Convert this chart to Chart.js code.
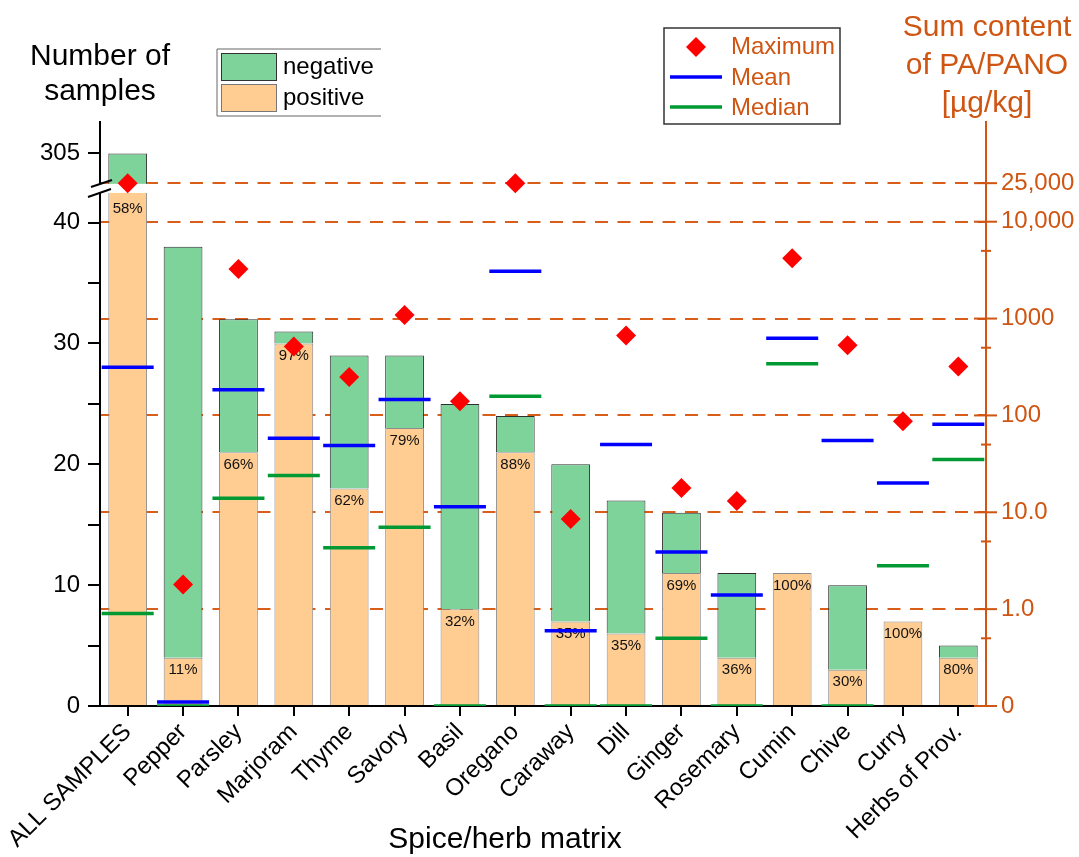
<!DOCTYPE html>
<html>
<head>
<meta charset="utf-8">
<script src="https://cdn.jsdelivr.net/npm/chart.js@4.4.1/dist/chart.umd.min.js"></script>
<style>
  html, body { margin: 0; padding: 0; background: #fff; }
  #wrap { width: 1079px; height: 857px; }
</style>
</head>
<body>
<div id="wrap"><canvas id="chart" width="1079" height="857"></canvas></div>
<script>
const categories = ['ALL SAMPLES', 'Pepper', 'Parsley', 'Marjoram', 'Thyme', 'Savory', 'Basil', 'Oregano',
  'Caraway', 'Dill', 'Ginger', 'Rosemary', 'Cumin', 'Chive', 'Curry', 'Herbs of Prov.'];
const positive = [177, 4, 21, 30, 18, 23, 8, 21, 7, 6, 11, 4, 11, 3, 7, 4];
const negative = [128, 34, 11, 1, 11, 6, 17, 3, 13, 11, 5, 7, 0, 7, 0, 1];
const maximum = [25000, 1.8, 3250, 515, 250, 1090, 140, 25000, 8.5, 670, 17.8, 13.1, 4200, 530, 87, 320];
const mean = [315, 0.11, 184, 58, 49, 146, 11.4, 3075, 0.6, 50, 3.9, 1.4, 627, 55, 20, 81];
const median = [0.9, 0, 14, 24, 4.3, 7, 0, 158, 0, 0, 0.5, 0, 341, 0, 2.8, 35];

const leftTicks = [0, 5, 10, 15, 20, 25, 30, 35, 40, 305];
const leftLabels = { 0: '0', 10: '10', 20: '20', 30: '30', 40: '40', 305: '305' };
const rightTicks = [0.1, 0.5, 1, 5, 10, 50, 100, 500, 1000, 5000, 10000, 25000];
const rightLabels = { 0.1: '0', 1: '1.0', 10: '10.0', 100: '100', 1000: '1000', 10000: '10,000', 25000: '25,000' };

const FONT = '"Liberation Sans", Arial, sans-serif';
const ORANGE = '#cf5512';
const GREEN_FILL = '#7ed39b';
const ORANGE_FILL = '#ffcc91';
const BLUE = '#0000ff';
const MED_GREEN = '#009933';

// left axis is broken between 42.5 and 302.6
const BREAK_LOW = 42.5, BREAK_HIGH = 302.6, BREAK_GAP = 0.83, LEFT_MAX = 307.6;

class BrokenLinearScale extends Chart.LinearScale {
  toVirtual(v) {
    if (v <= BREAK_LOW) return v;
    if (v < BREAK_HIGH) return BREAK_LOW + BREAK_GAP * (v - BREAK_LOW) / (BREAK_HIGH - BREAK_LOW);
    return BREAK_LOW + BREAK_GAP + (v - BREAK_HIGH);
  }
  getPixelForValue(v) {
    if (v === null || v === undefined || isNaN(v)) return NaN;
    return this.getPixelForDecimal(this.toVirtual(v) / this.toVirtual(LEFT_MAX));
  }
  getValueForPixel(p) {
    const u = this.getDecimalForPixel(p) * this.toVirtual(LEFT_MAX);
    if (u <= BREAK_LOW) return u;
    if (u < BREAK_LOW + BREAK_GAP) return BREAK_LOW + (u - BREAK_LOW) / BREAK_GAP * (BREAK_HIGH - BREAK_LOW);
    return BREAK_HIGH + (u - BREAK_LOW - BREAK_GAP);
  }
}
BrokenLinearScale.id = 'brokenLinear';
BrokenLinearScale.defaults = Chart.LinearScale.defaults;

// log axis where 0 sits on the bottom (labelled "0")
class ZeroLogScale extends Chart.LogarithmicScale {
  parse(raw, index) {
    return raw === 0 ? 0 : super.parse(raw, index);
  }
}
ZeroLogScale.id = 'zeroLog';
ZeroLogScale.defaults = Chart.LogarithmicScale.defaults;

Chart.register(BrokenLinearScale, ZeroLogScale);

function line(ctx, x1, y1, x2, y2, color, w) {
  ctx.beginPath();
  ctx.moveTo(x1, y1);
  ctx.lineTo(x2, y2);
  ctx.strokeStyle = color;
  ctx.lineWidth = w;
  ctx.stroke();
}

function text(ctx, s, x, y, size, color, align) {
  ctx.font = size + 'px ' + FONT;
  ctx.fillStyle = color;
  ctx.textAlign = align || 'left';
  ctx.textBaseline = 'alphabetic';
  ctx.fillText(s, x, y);
}

const decor = {
  id: 'decor',
  afterDatasetDraw(chart, args) {
    const ds = chart.data.datasets[args.index];
    if (ds.type !== 'bar') return;
    const ctx = chart.ctx;
    const y = chart.scales.y;
    const first = chart.getDatasetMeta(1).data[0];
    const top = y.getPixelForValue(BREAK_HIGH) + 1.5;
    const bot = y.getPixelForValue(BREAK_LOW) + 0.5;
    ctx.save();
    ctx.fillStyle = '#fff';
    ctx.fillRect(chart.chartArea.left - 16, top, first.x + first.width / 2 + 2 - (chart.chartArea.left - 16), bot - top);
    if (args.index === 0) {
      // percentage labels inside the positive bars
      const meta = chart.getDatasetMeta(0);
      ctx.font = '15px ' + FONT;
      ctx.fillStyle = '#111';
      ctx.textAlign = 'center';
      ctx.textBaseline = 'middle';
      meta.data.forEach((el, i) => {
        const pct = Math.round(positive[i] / (positive[i] + negative[i]) * 100) + '%';
        ctx.fillText(pct, el.x, Math.max(el.y, bot + 3) + 12.5);
      });
    }
    ctx.restore();
  },
  afterDraw(chart) {
    const ctx = chart.ctx;
    const area = chart.chartArea;
    const y2 = chart.scales.y2;
    ctx.save();
    // break marks on the left axis
    line(ctx, 91, 187, 112, 180, '#000', 2);
    line(ctx, 88, 197, 111, 189, '#000', 2);
    // right axis crossing ticks
    rightTicks.forEach(v => {
      const py = y2.getPixelForValue(v);
      const major = rightLabels[v] !== undefined;
      const h = major ? 12 : 5;
      line(ctx, area.right - h, py, area.right + h - (major ? 1 : 0), py, ORANGE, 2);
    });
    // axis titles
    text(ctx, 'Number of', 100, 65, 30, '#000', 'center');
    text(ctx, 'samples', 100, 100, 30, '#000', 'center');
    text(ctx, 'Sum content', 987, 36, 30, ORANGE, 'center');
    text(ctx, 'of PA/PANO', 987, 74, 30, ORANGE, 'center');
    text(ctx, '[\u00b5g/kg]', 987, 112, 30, ORANGE, 'center');
    text(ctx, 'Spice/herb matrix', 505, 848, 30, '#000', 'center');

    // legend: negative / positive
    line(ctx, 217, 49, 381, 49, '#666', 1);
    line(ctx, 217, 116, 381, 116, '#666', 1);
    line(ctx, 217, 49, 217, 116, '#666', 1);
    ctx.fillStyle = GREEN_FILL;
    ctx.fillRect(221, 53, 55, 27);
    ctx.strokeStyle = '#333';
    ctx.lineWidth = 1;
    ctx.strokeRect(221.5, 53.5, 55, 27);
    ctx.fillStyle = ORANGE_FILL;
    ctx.fillRect(221, 84, 55, 27);
    ctx.strokeStyle = '#777';
    ctx.strokeRect(221.5, 84.5, 55, 27);
    text(ctx, 'negative', 283, 74, 24, '#000');
    text(ctx, 'positive', 283, 105, 24, '#000');

    // legend: maximum / mean / median
    ctx.strokeStyle = '#333';
    ctx.lineWidth = 1.5;
    ctx.strokeRect(664, 28, 176, 96);
    ctx.beginPath();
    ctx.moveTo(696, 37); ctx.lineTo(706, 47); ctx.lineTo(696, 57); ctx.lineTo(686, 47);
    ctx.closePath();
    ctx.fillStyle = '#ff0000';
    ctx.fill();
    line(ctx, 670, 77, 722, 77, BLUE, 3.5);
    line(ctx, 670, 107, 722, 107, MED_GREEN, 3.5);
    text(ctx, 'Maximum', 731, 54, 24, ORANGE);
    text(ctx, 'Mean', 731, 85, 24, ORANGE);
    text(ctx, 'Median', 731, 115, 24, ORANGE);
    ctx.restore();
  }
};

new Chart(document.getElementById('chart'), {
  data: {
    labels: categories,
    datasets: [
      {
        type: 'bar', label: 'positive', data: positive, yAxisID: 'y', order: 3,
        backgroundColor: ORANGE_FILL, borderColor: '#8c8c8c', borderWidth: 1,
        barPercentage: 0.7, categoryPercentage: 1
      },
      {
        type: 'bar', label: 'negative', data: negative, yAxisID: 'y', order: 3,
        backgroundColor: GREEN_FILL, borderColor: '#2e2e2e', borderWidth: 1,
        barPercentage: 0.7, categoryPercentage: 1
      },
      {
        type: 'line', label: 'Median', data: median, yAxisID: 'y2', order: 2, showLine: false,
        pointStyle: 'line', pointRadius: 26, pointBorderWidth: 3.5,
        borderColor: MED_GREEN, pointBorderColor: MED_GREEN
      },
      {
        type: 'line', label: 'Mean', data: mean, yAxisID: 'y2', order: 1, showLine: false,
        pointStyle: 'line', pointRadius: 26, pointBorderWidth: 3.5,
        borderColor: BLUE, pointBorderColor: BLUE
      },
      {
        type: 'line', label: 'Maximum', data: maximum, yAxisID: 'y2', order: 0, showLine: false,
        pointStyle: 'rectRot', pointRadius: 10, pointBorderWidth: 0,
        pointBackgroundColor: '#ff0000', borderColor: '#ff0000'
      }
    ]
  },
  options: {
    responsive: false,
    animation: false,
    devicePixelRatio: 1,
    layout: { padding: { top: 122, left: 0, right: 0, bottom: 0 } },
    plugins: { legend: { display: false }, tooltip: { enabled: false } },
    scales: {
      x: {
        type: 'category', stacked: true, offset: true,
        grid: { display: true, drawOnChartArea: false, offset: false, color: '#000', lineWidth: 2, tickLength: 10 },
        border: { color: '#000', width: 2 },
        ticks: { color: '#000', font: { family: FONT, size: 24 }, minRotation: 45, maxRotation: 45, autoSkip: false, padding: 2 },
        afterFit: s => { s.height = 151; }
      },
      y: {
        type: 'brokenLinear', position: 'left', stacked: true, min: 0, max: LEFT_MAX,
        afterBuildTicks: s => { s.ticks = leftTicks.map(v => ({ value: v })); },
        ticks: { callback: v => leftLabels[v] ?? '', color: '#000', font: { family: FONT, size: 24 }, padding: 8, autoSkip: false },
        grid: { drawOnChartArea: false, color: '#000', lineWidth: 2, tickLength: 12 },
        border: { color: '#000', width: 2 },
        afterFit: s => { s.width = 100; }
      },
      y2: {
        type: 'zeroLog', position: 'right', min: 0.1, max: 107000,
        afterBuildTicks: s => { s.ticks = rightTicks.map(v => ({ value: v })); },
        ticks: { callback: v => rightLabels[v] ?? '', color: ORANGE, font: { family: FONT, size: 24 }, padding: 15, autoSkip: false },
        grid: {
          drawOnChartArea: true, drawTicks: false, lineWidth: 2,
          color: c => (c.tick && c.tick.value > 0.1 && rightLabels[c.tick.value]) ? '#d95e1a' : 'rgba(0,0,0,0)'
        },
        border: { color: ORANGE, width: 2, dash: [13, 9.5] },
        afterFit: s => { s.width = 93; }
      }
    }
  },
  plugins: [decor]
});
</script>
</body>
</html>
